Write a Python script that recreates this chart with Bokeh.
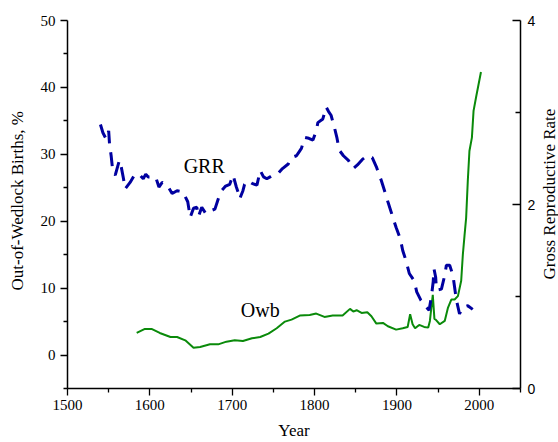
from math import pi
from bokeh.plotting import figure
from bokeh.models import Range1d, LinearAxis, FixedTicker, Label
from bokeh.layouts import row
from bokeh.embed import file_html
from bokeh.resources import INLINE

# Out-of-wedlock births, % (left axis)
owb_year = [1584, 1594, 1602, 1612, 1625, 1633, 1643, 1653, 1661, 1673, 1683, 1693,
            1703, 1713, 1724, 1734, 1744, 1754, 1764, 1772, 1782, 1794, 1802, 1812,
            1822, 1834, 1843, 1847, 1851, 1857, 1864, 1869, 1875, 1883, 1889, 1899,
            1907, 1913, 1916, 1919, 1922, 1927, 1933, 1938, 1940, 1943.5, 1945.5, 1947,
            1952, 1958, 1962, 1966, 1970, 1974, 1978, 1980, 1982, 1984, 1986, 1988,
            1991, 1993, 1996, 2002]
owb_pct = [3.3, 3.9, 3.9, 3.3, 2.7, 2.7, 2.2, 1.1, 1.2, 1.6, 1.6, 2.0,
           2.2, 2.1, 2.5, 2.7, 3.2, 4.0, 5.0, 5.3, 5.9, 6.0, 6.2, 5.7,
           5.9, 5.9, 6.9, 6.5, 6.7, 6.3, 6.4, 5.8, 4.7, 4.8, 4.3, 3.8,
           4.0, 4.2, 6.1, 4.6, 4.0, 4.5, 4.2, 4.1, 5.1, 9.0, 5.4, 5.3,
           4.6, 5.1, 7.1, 8.3, 8.3, 8.8, 11.1, 15.0, 17.8, 20.5, 26.0, 30.5,
           32.5, 36.5, 38.5, 42.3]

# Gross reproductive rate (right axis)
grr_year = [1540, 1543, 1547, 1550, 1551, 1553, 1555, 1558, 1563, 1565, 1568, 1570,
            1576, 1582, 1588, 1592, 1595, 1598, 1607, 1611, 1615, 1621, 1627, 1633,
            1640, 1646, 1649, 1653, 1657, 1659, 1663, 1668, 1673, 1679, 1683, 1687,
            1692, 1697, 1701, 1705, 1708, 1709, 1713, 1715, 1719, 1724, 1730, 1734,
            1738, 1742, 1746, 1751, 1756, 1761, 1768, 1772, 1778, 1781, 1784, 1788,
            1793, 1798, 1802, 1804, 1810, 1814, 1817, 1820, 1824, 1827, 1830, 1835,
            1841, 1847, 1852, 1858, 1864, 1870, 1875, 1881, 1886, 1889, 1895, 1899,
            1904, 1907, 1911, 1915, 1921, 1924, 1929, 1935, 1939, 1942, 1944, 1945,
            1947, 1948, 1954, 1958, 1960, 1964, 1968, 1970, 1972, 1976, 1979, 1986,
            1992]
grr_rate = [2.87, 2.78, 2.71, 2.80, 2.66, 2.53, 2.36, 2.32, 2.48, 2.42, 2.28, 2.17,
            2.24, 2.33, 2.32, 2.28, 2.33, 2.30, 2.30, 2.19, 2.24, 2.21, 2.12, 2.15,
            2.14, 2.03, 1.86, 1.96, 1.97, 1.87, 1.97, 1.90, 1.93, 1.95, 2.06, 2.15,
            2.20, 2.22, 2.32, 2.19, 2.11, 2.06, 2.15, 2.22, 2.26, 2.23, 2.21, 2.37,
            2.30, 2.28, 2.30, 2.33, 2.34, 2.39, 2.44, 2.51, 2.53, 2.57, 2.61, 2.73,
            2.72, 2.70, 2.80, 2.89, 2.93, 3.06, 3.01, 2.97, 2.84, 2.73, 2.59, 2.53,
            2.48, 2.39, 2.43, 2.49, 2.53, 2.51, 2.41, 2.26, 2.12, 2.03, 1.86, 1.75,
            1.63, 1.50, 1.39, 1.25, 1.17, 1.05, 0.96, 0.89, 0.85, 1.01, 1.16, 1.30,
            1.21, 1.07, 1.08, 1.23, 1.34, 1.34, 1.23, 1.10, 0.97, 0.81, 0.88, 0.90,
            0.86]

x_ticks = [1500, 1600, 1700, 1800, 1900, 2000]
x_minor = [1550, 1650, 1750, 1850, 1950, 2050]
left_ticks = [0, 10, 20, 30, 40, 50]
left_minor = [-5, 5, 15, 25, 35, 45]
right_ticks = [0, 2, 4]
right_minor = [1, 3]

SERIF = "Liberation Serif"
SANS = "Liberation Sans"

H = 442
LEFT_STRIP, MAIN_W, RIGHT_STRIP = 30, 510, 18


def strip(width, text, cx, cy):
    """Narrow figure that only holds a rotated axis title (reads bottom-to-top)."""
    s = figure(width=width, height=H, x_range=Range1d(0, width), y_range=Range1d(0, H),
               output_backend="svg", toolbar_location=None, min_border=0,
               x_axis_type=None, y_axis_type=None)
    s.outline_line_color = None
    s.grid.visible = False
    s.title.visible = False
    s.add_layout(Label(x=cx, y=cy, text=text, angle=pi / 2, text_align="center",
                       text_baseline="middle", text_font=SERIF, text_font_size="17px",
                       text_color="black"))
    return s


p = figure(width=MAIN_W, height=H, x_range=Range1d(1500, 2050), y_range=Range1d(-5, 50),
           output_backend="svg", toolbar_location=None,
           min_border_left=37, min_border_right=20, min_border_top=20, min_border_bottom=54)
p.extra_y_ranges = {"grr": Range1d(0, 4)}
p.outline_line_color = None
p.grid.visible = False
p.title.visible = False

p.line(owb_year, owb_pct, color="#0a8a0a", line_width=2)
p.line(grr_year, grr_rate, y_range_name="grr", color="#0000a0", line_width=3,
       line_dash="14 9")


def style(ax, font, size):
    ax.axis_line_color = "black"
    ax.axis_line_width = 1.5
    ax.major_tick_line_color = "black"
    ax.minor_tick_line_color = "black"
    ax.major_tick_line_width = 1.3
    ax.minor_tick_line_width = 1.3
    ax.major_label_text_font = font
    ax.major_label_text_font_size = size
    ax.major_label_text_color = "black"
    ax.axis_label_text_font = SERIF
    ax.axis_label_text_font_size = "17px"
    ax.axis_label_text_font_style = "normal"
    ax.axis_label_text_color = "black"


xa = p.xaxis[0]
xa.ticker = FixedTicker(ticks=x_ticks, minor_ticks=x_minor)
xa.axis_label = "Year"
style(xa, SERIF, "15px")
xa.major_tick_in = 0
xa.major_tick_out = 7
xa.minor_tick_in = 0
xa.minor_tick_out = 4
xa.major_label_standoff = 4
xa.axis_label_standoff = 8

ya = p.yaxis[0]
ya.ticker = FixedTicker(ticks=left_ticks, minor_ticks=left_minor)
style(ya, SERIF, "15px")
ya.major_tick_in = 0
ya.major_tick_out = 7
ya.minor_tick_in = 0
ya.minor_tick_out = 4
ya.major_label_standoff = 5

ra = LinearAxis(y_range_name="grr", ticker=FixedTicker(ticks=right_ticks, minor_ticks=right_minor))
style(ra, SANS, "14px")
ra.major_tick_in = 8
ra.major_tick_out = 0
ra.minor_tick_in = 5
ra.minor_tick_out = 0
ra.major_label_standoff = 7
p.add_layout(ra, "right")

p.add_layout(Label(x=1666, y=28.3, text="GRR", text_align="center", text_baseline="middle",
                   text_font=SERIF, text_font_size="20px", text_color="black"))
p.add_layout(Label(x=1734, y=6.7, text="Owb", text_align="center", text_baseline="middle",
                   text_font=SERIF, text_font_size="20px", text_color="black"))

left_title = strip(LEFT_STRIP, "Out-of-Wedlock Births, %", 17, H - 216.5)
right_title = strip(RIGHT_STRIP, "Gross Reproductive Rate", 9, H - 208.5)

layout = row(left_title, p, right_title, spacing=0)
open("out.html", "w").write(file_html(layout, INLINE))
